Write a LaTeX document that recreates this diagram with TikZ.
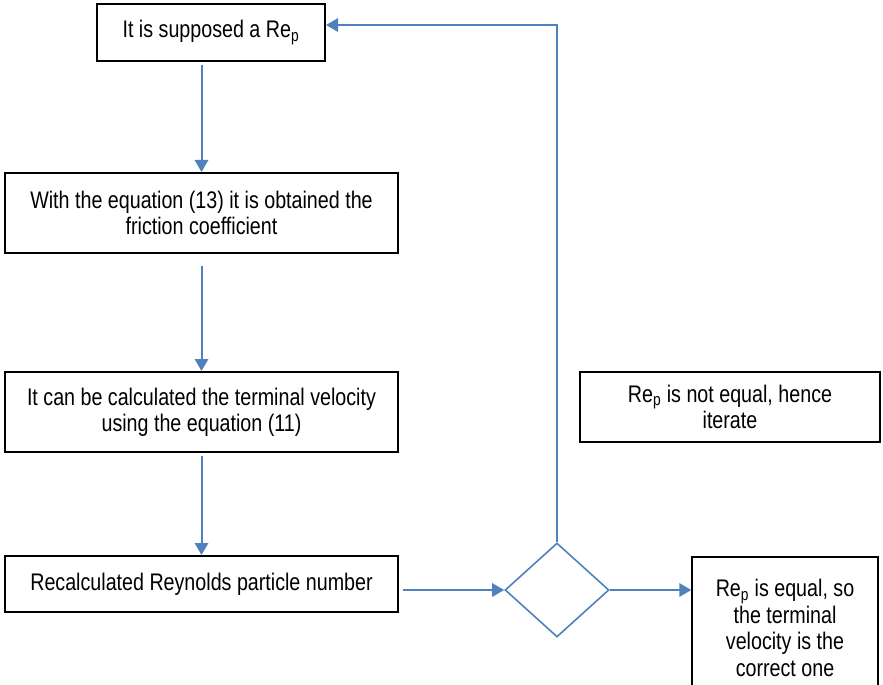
\documentclass[tikz,border=0pt]{standalone}
\usepackage{fontspec}
\setmainfont[FakeStretch=0.82]{Liberation Sans}
\usetikzlibrary{arrows.meta,shapes.geometric}
\definecolor{flowblue}{HTML}{4F81BD}
\begin{document}
\begin{tikzpicture}[x=0.75pt,y=-0.75pt,
  box/.style={draw=black,line width=1.5pt,inner sep=0pt,align=center,
    font=\fontsize{18}{19.8}\selectfont},
  conn/.style={draw=flowblue,line width=1.5pt,-{Triangle[length=9pt,width=10pt]}},
  decision/.style={draw=flowblue,line width=1.2pt,diamond,inner sep=0pt,
    minimum width=78pt,minimum height=70.5pt}]
\useasboundingbox (0,0) rectangle (883,685);
\node[box,minimum width=171pt,minimum height=42.75pt] (b1) at (211,32.5) {It is supposed a Re\textsubscript{p}};
\node[box,minimum width=294.75pt,minimum height=60pt] (b2) at (201.5,213) {With the equation (13) it is obtained the\\friction coefficient};
\node[box,minimum width=294.75pt,minimum height=60pt] (b3) at (201.5,412) {It can be calculated the terminal velocity\\using the equation (11)};
\node[box,minimum width=294.75pt,minimum height=42pt] (b4) at (201.5,584) {Recalculated Reynolds particle number};
\node[decision] (d) at (557,590) {};
\node[box,minimum width=139pt,minimum height=106.5pt] (b5) at (785,628) {Re\textsubscript{p} is equal, so\\the terminal\\velocity is the\\correct one};
\node[box,minimum width=225pt,minimum height=52.5pt] (b6) at (730,407) {Re\textsubscript{p} is not equal, hence\\iterate};
\draw[conn,shorten <=2pt] (b2.north |- b1.south) -- (b2.north);
\draw[conn,shorten <=9pt] (b2.south) -- (b3.north);
\draw[conn,shorten <=2pt] (b3.south) -- (b4.north);
\draw[conn,shorten <=3pt] (b4.east |- d.west) -- (d.west);
\draw[conn] (d.east) -- (d.east -| b5.west);
\draw[conn] (d.north) |- ([yshift=5.6pt]b1.east);
\end{tikzpicture}
\end{document}
